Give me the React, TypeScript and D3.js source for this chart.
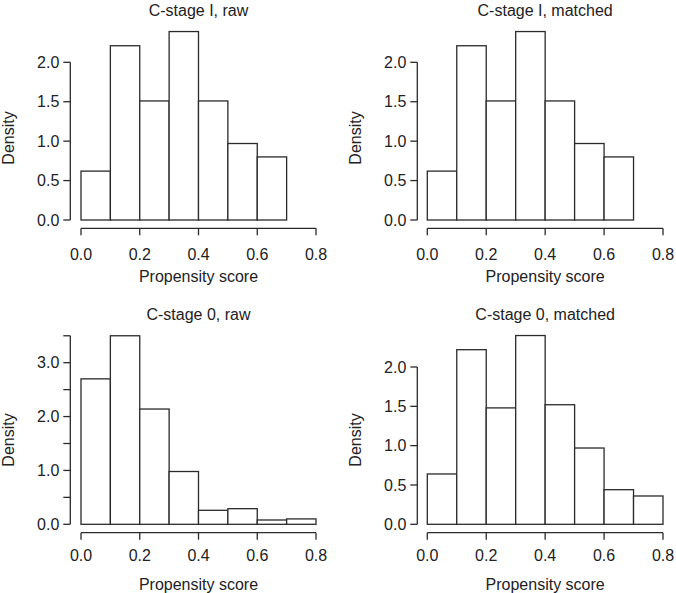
import React from "react";
import * as d3 from "d3";

// histogram bins (left edges, width 0.1)
const binStarts = [0, 0.1, 0.2, 0.3, 0.4, 0.5, 0.6, 0.7];
const binWidth = 0.1;

// densities
const stageIRaw = [0.62, 2.21, 1.51, 2.39, 1.51, 0.97, 0.8];
const stageIMatched = [0.62, 2.21, 1.51, 2.39, 1.51, 0.97, 0.8];
const stage0Raw = [2.7, 3.5, 2.14, 0.98, 0.26, 0.29, 0.08, 0.1];
const stage0Matched = [0.64, 2.22, 1.48, 2.4, 1.52, 0.97, 0.44, 0.36];

const xTicks = [0, 0.2, 0.4, 0.6, 0.8];
const yTicksTop = [0, 0.5, 1, 1.5, 2];
const yTicksStage0Raw = [0, 0.5, 1, 1.5, 2, 2.5, 3, 3.5];
const yLabelsStage0Raw = [0, 1, 2, 3];

const titles = [
  "C-stage I, raw",
  "C-stage I, matched",
  "C-stage 0, raw",
  "C-stage 0, matched",
];

const INK = "#2a2a2a";
const TEXT = "#222";
const FONT = "'Liberation Sans', Arial, Helvetica, sans-serif";

type PanelProps = {
  title: string;
  values: number[];
  xRange: [number, number];
  yDomainMax: number;
  yRange: [number, number];
  yAxisX: number;
  xAxisY: number;
  yTicks: number[];
  yLabels: number[];
  titleY: number;
  tickLabelY: number;
  xlabY: number;
  ylabX: number;
  ylabY: number;
};

const Panel = (p: PanelProps) => {
  const x = d3.scaleLinear().domain([0, 0.8]).range(p.xRange);
  const y = d3.scaleLinear().domain([0, p.yDomainMax]).range(p.yRange);
  const fmt = d3.format(".1f");
  const yTop = p.yTicks[p.yTicks.length - 1];
  const cx = (p.xRange[0] + p.xRange[1]) / 2;

  return (
    <g>
      <text x={cx} y={p.titleY} textAnchor="middle" fontSize={16} fill={TEXT}>
        {p.title}
      </text>

      {/* bars */}
      {p.values.map((v, i) => (
        <rect
          key={i}
          x={x(binStarts[i])}
          y={y(v)}
          width={x(binStarts[i] + binWidth) - x(binStarts[i])}
          height={y(0) - y(v)}
          fill="white"
          stroke={INK}
          strokeWidth={1.3}
        />
      ))}

      {/* y axis */}
      <line x1={p.yAxisX} x2={p.yAxisX} y1={y(0)} y2={y(yTop)} stroke={INK} strokeWidth={1.3} />
      {p.yTicks.map((t) => (
        <g key={t}>
          <line x1={p.yAxisX - 7} x2={p.yAxisX} y1={y(t)} y2={y(t)} stroke={INK} strokeWidth={1.3} />
          {p.yLabels.includes(t) && (
            <text x={p.yAxisX - 11} y={y(t) + 5.7} textAnchor="end" fontSize={16} fill={TEXT}>
              {fmt(t)}
            </text>
          )}
        </g>
      ))}

      {/* x axis */}
      <line x1={x(0)} x2={x(0.8)} y1={p.xAxisY} y2={p.xAxisY} stroke={INK} strokeWidth={1.3} />
      {xTicks.map((t) => (
        <g key={t}>
          <line x1={x(t)} x2={x(t)} y1={p.xAxisY} y2={p.xAxisY + 7} stroke={INK} strokeWidth={1.3} />
          <text x={x(t)} y={p.tickLabelY} textAnchor="middle" fontSize={16} fill={TEXT}>
            {fmt(t)}
          </text>
        </g>
      ))}

      <text x={cx} y={p.xlabY} textAnchor="middle" fontSize={16} fill={TEXT}>
        Propensity score
      </text>
      <text
        transform={`translate(${p.ylabX},${p.ylabY}) rotate(-90)`}
        dy="0.35em"
        textAnchor="middle"
        fontSize={16}
        fill={TEXT}
      >
        Density
      </text>
    </g>
  );
};

const App = () => {
  const top = { titleY: 15.5, tickLabelY: 260, xlabY: 282, ylabY: 138, xAxisY: 228.3 };
  const bottom = { titleY: 320, tickLabelY: 560.5, xlabY: 589.5, ylabY: 440, xAxisY: 532.7 };
  const left = { xRange: [81, 316] as [number, number], yAxisX: 70.3, ylabX: 8 };
  const right = { xRange: [427.3, 663] as [number, number], yAxisX: 417.3, ylabX: 355 };

  return (
    <svg
      width={676}
      height={593}
      style={{ position: "absolute", left: 0, top: 0, background: "white" }}
      fontFamily={FONT}
    >
      <Panel
        title={titles[0]}
        values={stageIRaw}
        {...top}
        {...left}
        yDomainMax={2}
        yRange={[220, 62.3]}
        yTicks={yTicksTop}
        yLabels={yTicksTop}
      />
      <Panel
        title={titles[1]}
        values={stageIMatched}
        {...top}
        {...right}
        yDomainMax={2}
        yRange={[220, 62.3]}
        yTicks={yTicksTop}
        yLabels={yTicksTop}
      />
      <Panel
        title={titles[2]}
        values={stage0Raw}
        {...bottom}
        {...left}
        yDomainMax={3}
        yRange={[524.3, 362.7]}
        yTicks={yTicksStage0Raw}
        yLabels={yLabelsStage0Raw}
      />
      <Panel
        title={titles[3]}
        values={stage0Matched}
        {...bottom}
        {...right}
        yDomainMax={2}
        yRange={[524.3, 367]}
        yTicks={yTicksTop}
        yLabels={yTicksTop}
      />
    </svg>
  );
};

export default App;
